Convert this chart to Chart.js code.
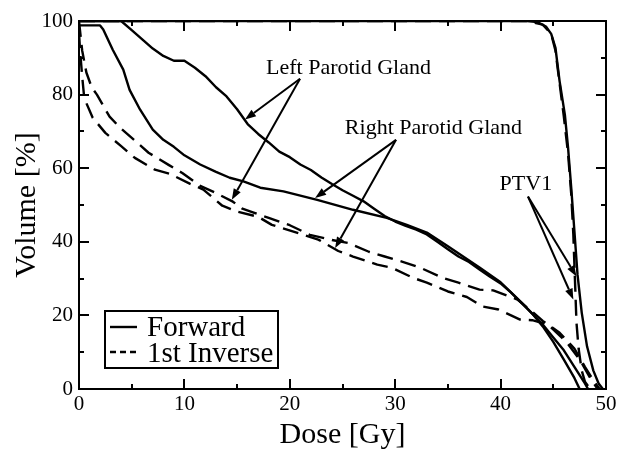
<!DOCTYPE html>
<html>
<head>
<meta charset="utf-8">
<script src="https://cdn.jsdelivr.net/npm/chart.js@4/dist/chart.umd.min.js"></script>
<style>
html,body{margin:0;padding:0;background:#fff;}
#wrap{width:626px;height:454px;position:relative;}
</style>
</head>
<body>
<div id="wrap"><canvas id="c" width="626" height="454"></canvas></div>
<script>
// ---- Data (Dose [Gy] vs Volume [%]) ----
const leftFwdDose  = [0,4,5,6,7,8,9,10,11,12,13,14,15,16,17,18,19,20,21,22,23,24,25,26,27,28,29,30,31,32,33,34,35,36,37,38,39,40,41,42,43,44,45,46,47,47.5];
const leftFwdVol   = [100,100,97.5,95,92.5,90.5,89.2,89.2,87.3,85,82,79.5,76,72,69.3,67,64.5,63,61,59.5,57.5,55.7,54,52.5,51,49,47,45.5,44.3,43.3,42,40,38,36,34.5,32.5,30.5,28.7,26.2,23.3,20.5,17,12.8,8,3,0];

const rightFwdDose = [0,2,2.3,3.2,4.2,4.8,5.8,7,8,9,10,11.5,13,14.3,15.6,17.2,19.4,22.6,26,29.2,31.1,33,35,38,40,42,43,44,45,46,47,48,48.3];
const rightFwdVol  = [98.8,98.8,97.7,92.2,86.8,81.3,75.9,70.5,67.7,65.8,63.5,61,59,57.4,56.4,54.7,53.7,51.4,48.7,46.5,44.6,42.5,38.8,33,29,23.5,20.5,17.5,14,10.5,6,1.5,0];

const leftInvDose  = [0,0.3,0.7,1.2,1.7,2.9,3.9,5.5,6.6,8.5,9.8,11.5,12.9,14.6,15.5,16.5,18,20,21.9,24,25.5,27.5,29,31,32.5,34.5,36,38,39.3,41.6,43,44,45.6,47,48,49,49.4];
const leftInvVol   = [100,92,86,82,80,74,71,67,64.2,60.9,58.7,55.2,53.4,50.9,49,48,46.5,44.5,41.9,40.5,39.7,37.3,36,34.3,32.8,30.2,28.9,27,26.8,24.3,21,18.5,15.3,11,6,1.5,0];

const rightInvDose = [0,0.1,0.3,0.5,1.3,2.5,4,5.3,7.2,8.6,10.5,11.8,13.6,15,17,18.3,21.3,22.7,24.6,26,28.3,29.7,31.7,33,35,36.8,38.3,39.8,41.8,43,44.5,46.3,47.5,48.5,49.2];
const rightInvVol  = [97,92,85,79,73.7,69.6,66,62.8,59.6,58.5,55.8,54.2,49.8,48.2,46.8,44.6,41.9,40.6,37.5,36,33.8,32.9,30.2,28.9,26.5,25,22.4,21.6,18.9,18.7,17.5,12.6,8,3,0];

const ptvFwdDose   = [0,42.5,43.5,44.3,44.8,45.2,45.6,46.1,46.4,46.7,47,47.3,47.7,48.2,48.8,49.3,49.7];
const ptvFwdVol    = [100,100,99.7,98.5,96.5,92.8,83.6,74.5,65.6,54.7,43,31,20.7,11.6,5,1.5,0];

const ptvInvDose   = [0,42.5,44,44.8,45.2,45.6,46,46.4,46.7,46.9,47.05,47.2,47.4,47.7,48,48.5];
const ptvInvVol    = [100,100,99,96.5,92,83,74,64,53,42,30,18,11,5,2,0];

const xTicks = [0,10,20,30,40,50];
const yTicks = [0,20,40,60,80,100];

const legendLabels = ["Forward","1st Inverse"];

// Annotations (data units): label text, label position, arrow start, arrow ends
const annotations = [
  {text:"Left Parotid Gland",  at:[25.57,87.3], from:[20.97,84.3], to:[[15.75,73.2],[14.5,51.4]]},
  {text:"Right Parotid Gland", at:[33.63,71.0], from:[30.08,67.7], to:[[22.4,51.9],[24.3,38.3]]},
  {text:"PTV1",                at:[42.4,55.7],  from:[42.6,52.3],  to:[[47.2,30.6],[46.9,24.3]]}
];

const FONT = "'Liberation Serif', 'Times New Roman', serif";

function pts(xs, ys){ return xs.map((x,i)=>({x:x, y:ys[i]})); }

const DASH = [16,8];
function ds(label, xs, ys, dashed){
  return {label:label, data:pts(xs,ys), showLine:true, borderColor:'#000', backgroundColor:'#000',
    borderWidth:2.4, borderDash: dashed?DASH:[], pointRadius:0, pointHoverRadius:0, tension:0,
    borderCapStyle:'butt', borderJoinStyle:'round'};
}

const framePlugin = {
  id:'frame',
  afterDraw(chart){
    const ctx = chart.ctx, a = chart.chartArea;
    const xs = chart.scales.x, ys = chart.scales.y;
    ctx.save();
    ctx.strokeStyle = '#000';
    ctx.lineWidth = 2;
    ctx.strokeRect(a.left, a.top, a.right-a.left, a.bottom-a.top);
    ctx.beginPath();
    for(let v=0; v<=50; v+=5){
      const p = Math.round(xs.getPixelForValue(v));
      const L = (v%10===0)?10:5;
      ctx.moveTo(p, a.bottom); ctx.lineTo(p, a.bottom-L);
      ctx.moveTo(p, a.top); ctx.lineTo(p, a.top+L);
    }
    for(let v=0; v<=100; v+=10){
      const p = Math.round(ys.getPixelForValue(v));
      const L = (v%20===0)?10:5;
      ctx.moveTo(a.left, p); ctx.lineTo(a.left+L, p);
      ctx.moveTo(a.right, p); ctx.lineTo(a.right-L, p);
    }
    ctx.stroke();

    // annotations
    ctx.fillStyle = '#000';
    ctx.font = "22px " + FONT;
    ctx.textAlign = 'center';
    ctx.textBaseline = 'middle';
    ctx.lineWidth = 2;
    annotations.forEach(an=>{
      ctx.fillText(an.text, xs.getPixelForValue(an.at[0]), ys.getPixelForValue(an.at[1]));
      const sx = xs.getPixelForValue(an.from[0]), sy = ys.getPixelForValue(an.from[1]);
      an.to.forEach(t=>{
        const ex = xs.getPixelForValue(t[0]), ey = ys.getPixelForValue(t[1]);
        const ang = Math.atan2(ey-sy, ex-sx);
        const hl = 11, hw = 4;
        const bx = ex - hl*Math.cos(ang), by = ey - hl*Math.sin(ang);
        ctx.beginPath(); ctx.moveTo(sx,sy); ctx.lineTo(bx,by); ctx.stroke();
        ctx.beginPath();
        ctx.moveTo(ex,ey);
        ctx.lineTo(bx + hw*Math.sin(ang), by - hw*Math.cos(ang));
        ctx.lineTo(bx - hw*Math.sin(ang), by + hw*Math.cos(ang));
        ctx.closePath(); ctx.fill();
      });
    });

    // legend box
    const lx=105, ly=311, lw=173, lh=57;
    ctx.fillStyle='#fff';
    ctx.fillRect(lx,ly,lw,lh);
    ctx.strokeStyle='#000'; ctx.lineWidth=2;
    ctx.strokeRect(lx,ly,lw,lh);
    ctx.lineWidth=2.4;
    ctx.beginPath(); ctx.moveTo(110,327); ctx.lineTo(137,327); ctx.stroke();
    ctx.setLineDash([6,4]);
    ctx.beginPath(); ctx.moveTo(110,352); ctx.lineTo(137,352); ctx.stroke();
    ctx.setLineDash([]);
    ctx.fillStyle='#000';
    ctx.font = "29px " + FONT;
    ctx.textAlign='left'; ctx.textBaseline='alphabetic';
    ctx.fillText(legendLabels[0], 147, 336);
    ctx.fillText(legendLabels[1], 147, 362);
    ctx.restore();
  }
};

new Chart(document.getElementById('c'), {
  type:'scatter',
  data:{datasets:[
    ds('Left Parotid Forward', leftFwdDose, leftFwdVol, false),
    ds('Right Parotid Forward', rightFwdDose, rightFwdVol, false),
    ds('Left Parotid 1st Inverse', leftInvDose, leftInvVol, true),
    ds('Right Parotid 1st Inverse', rightInvDose, rightInvVol, true),
    ds('PTV1 Forward', ptvFwdDose, ptvFwdVol, false),
    ds('PTV1 1st Inverse', ptvInvDose, ptvInvVol, true)
  ]},
  options:{
    responsive:false, animation:false, devicePixelRatio:1,
    layout:{padding:{left:0,right:20,top:21,bottom:0}},
    plugins:{legend:{display:false}, tooltip:{enabled:false}},
    scales:{
      x:{type:'linear', min:0, max:50,
        afterBuildTicks(s){ s.ticks = xTicks.map(v=>({value:v})); },
        afterFit(s){ s.height = 65; },
        grid:{display:false, drawTicks:false}, border:{display:false},
        ticks:{color:'#000', font:{family:FONT, size:21}, padding:3, maxRotation:0},
        title:{display:true, text:'Dose [Gy]', color:'#000', font:{family:FONT, size:30}, padding:{top:1,bottom:1}}
      },
      y:{type:'linear', min:0, max:100,
        afterBuildTicks(s){ s.ticks = yTicks.map(v=>({value:v})); },
        afterFit(s){ s.width = 79; },
        grid:{display:false, drawTicks:false}, border:{display:false},
        ticks:{color:'#000', font:{family:FONT, size:21}, padding:6},
        title:{display:true, text:'Volume [%]', color:'#000', font:{family:FONT, size:30}, padding:{top:9,bottom:9}}
      }
    }
  },
  plugins:[framePlugin]
});
</script>
</body>
</html>
